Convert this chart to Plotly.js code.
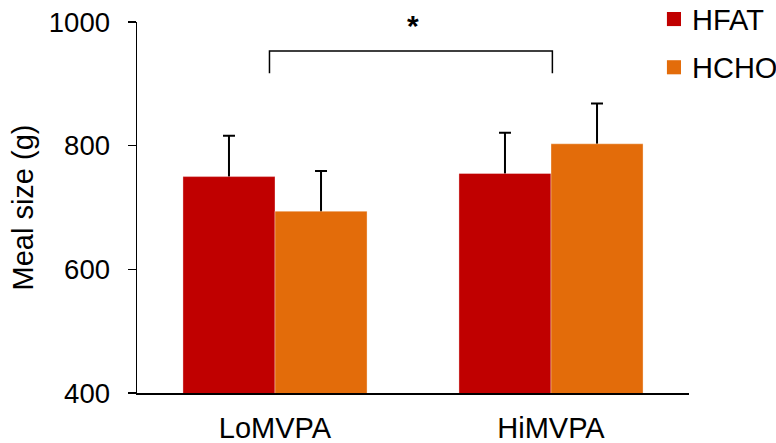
<!DOCTYPE html>
<html>
<head>
<meta charset="utf-8">
<script src="https://cdn.plot.ly/plotly-3.0.1.min.js"></script>
<style>html,body{margin:0;padding:0;background:#fff}#chart{width:776px;height:443px}</style>
</head>
<body>
<div id="chart"></div>
<script>
// Meal size by activity group and diet
const groups = ['LoMVPA', 'HiMVPA'];
const seriesNames = ['HFAT', 'HCHO'];
const hfatMeal = [750, 755];
const hfatErr = [66, 66];
const hchoMeal = [694, 803];
const hchoErr = [65, 65];
const yTicks = [400, 600, 800, 1000];

const colors = ['#C00000', '#E36C0A'];
const font = 'Liberation Sans, Arial, sans-serif';
const yRange = [400, 1000];

// Error bars sit on the base axes under transparent bars; the coloured bars
// are drawn on an overlaid axis so they cover the lower half of each bar.
function errTrace(vals, errs) {
  return {
    type: 'bar', x: groups, y: vals, xaxis: 'x', yaxis: 'y', showlegend: false,
    marker: {color: 'rgba(0,0,0,0)'},
    error_y: {type: 'data', array: errs, color: '#000', thickness: 2, width: 6}
  };
}
function barTrace(name, vals, color) {
  return {
    type: 'bar', name: name, x: groups, y: vals, xaxis: 'x', yaxis: 'y2', showlegend: false,
    marker: {color: color, line: {color: 'rgba(255,255,255,0.35)', width: 1}}
  };
}

const traces = [
  errTrace(hfatMeal, hfatErr),
  errTrace(hchoMeal, hchoErr),
  barTrace(seriesNames[0], hfatMeal, colors[0]),
  barTrace(seriesNames[1], hchoMeal, colors[1])
];

// legend drawn as squares + labels
const legendY = [1.005, 0.875];
const legendShapes = seriesNames.map((n, i) => ({
  type: 'rect', xref: 'paper', yref: 'paper',
  x0: 0.960, x1: 0.9855, y0: legendY[i] - 0.016, y1: legendY[i] + 0.022,
  fillcolor: colors[i], line: {width: 0}
}));
const legendLabels = seriesNames.map((n, i) => ({
  xref: 'paper', yref: 'paper', x: 1.0018, y: legendY[i],
  xanchor: 'left', yanchor: 'middle', text: n, showarrow: false,
  font: {size: 29, color: '#000'}
}));

const layout = {
  width: 776, height: 443,
  margin: {l: 137, r: 87, t: 22, b: 50},
  paper_bgcolor: '#fff', plot_bgcolor: '#fff',
  barmode: 'group', bargap: 0.333, bargroupgap: 0,
  font: {family: font, size: 27, color: '#000'},
  showlegend: false,
  xaxis: {
    type: 'category', range: [-0.5, 1.5], automargin: false,
    showline: true, linecolor: '#000', linewidth: 1.5,
    ticks: '', showgrid: false, zeroline: false,
    tickfont: {size: 29}, ticklabelstandoff: 9
  },
  yaxis: {
    range: yRange, tickvals: yTicks, automargin: false,
    showline: true, linecolor: '#000', linewidth: 1.5,
    ticks: 'outside', ticklen: 8, tickwidth: 1.5, tickcolor: '#000',
    showgrid: false, zeroline: false,
    tickfont: {size: 27.5}, ticklabelstandoff: 12,
    title: {text: 'Meal size (g)', font: {size: 29}, standoff: 6}
  },
  yaxis2: {
    range: yRange, overlaying: 'y', visible: false, automargin: false,
    showgrid: false, zeroline: false
  },
  shapes: [{
    type: 'path', xref: 'x', yref: 'y',
    path: 'M -0.02,917 L -0.02,953 L 1.005,953 L 1.005,917',
    line: {color: '#000', width: 1.5}
  }].concat(legendShapes),
  annotations: [{
    xref: 'x', yref: 'paper', x: 0.5, y: 0.99, text: '<b>*</b>',
    showarrow: false, font: {size: 30, color: '#000'}, yanchor: 'middle'
  }].concat(legendLabels)
};

Plotly.newPlot('chart', traces, layout, {staticPlot: true, displayModeBar: false});
</script>
</body>
</html>
